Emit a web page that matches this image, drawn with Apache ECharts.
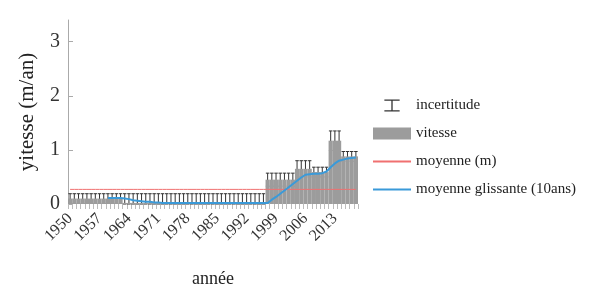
<!DOCTYPE html>
<html>
<head>
<meta charset="utf-8">
<script src="https://cdn.jsdelivr.net/npm/echarts@6/dist/echarts.min.js"></script>
<style>
html,body{margin:0;padding:0;background:#fff;}
#main{width:597px;height:293px;}
</style>
</head>
<body>
<div id="main"></div>
<script>
var years = [];
for (var y = 1950; y <= 2018; y++) { years.push(String(y)); }

// vitesse (m/an)
var vitesse = [
    0.10,0.10,0.10,0.10,0.10,0.10,0.10,0.10,0.10,0.10, // 1950-1959
    0.10,0.10,0.10,0.02,0.02,0.02,0.02,0.02,0.02,0.02, // 1960-1969
    0.02,0.02,0.02,0.02,0.02,0.02,0.02,0.02,0.02,0.02, // 1970-1979
    0.02,0.02,0.02,0.02,0.02,0.02,0.02,0.02,0.02,0.02, // 1980-1989
    0.02,0.02,0.02,0.02,0.02,0.02,0.02,0.45,0.45,0.45, // 1990-1999
    0.45,0.45,0.45,0.45,0.65,0.65,0.65,0.65,0.59,0.59, // 2000-2009
    0.59,0.59,1.17,1.17,1.17,0.88,0.88,0.88,0.88       // 2010-2018
];
// incertitude (half width)
var incertitude = [
    0.09,0.09,0.09,0.09,0.09,0.09,0.09,0.09,0.09,0.09,
    0.09,0.09,0.09,0.17,0.17,0.17,0.17,0.17,0.17,0.17,
    0.17,0.17,0.17,0.17,0.17,0.17,0.17,0.17,0.17,0.17,
    0.17,0.17,0.17,0.17,0.17,0.17,0.17,0.17,0.17,0.17,
    0.17,0.17,0.17,0.17,0.17,0.17,0.17,0.12,0.12,0.12,
    0.12,0.12,0.12,0.12,0.15,0.15,0.15,0.15,0.09,0.09,
    0.09,0.09,0.18,0.18,0.18,0.09,0.09,0.09,0.09
];
var moyenne = 0.27;
// moyenne glissante (10ans)
var glissante = [
    null,null,null,null,null,null,null,null,null,0.11,
    0.11,0.11,0.11,0.10,0.09,0.07,0.06,0.05,0.04,0.04,
    0.03,0.03,0.02,0.02,0.02,0.02,0.02,0.02,0.02,0.02,
    0.02,0.02,0.02,0.02,0.02,0.02,0.02,0.02,0.02,0.02,
    0.02,0.02,0.02,0.02,0.02,0.02,0.02,0.02,0.08,0.13,
    0.19,0.25,0.31,0.37,0.43,0.49,0.54,0.55,0.56,0.56,
    0.57,0.60,0.68,0.75,0.80,0.82,0.84,0.85,0.86
];
var yTicks = [0, 1, 2, 3];

var serif = 'Liberation Serif';
var errData = vitesse.map(function (v, i) {
    return [i, Math.max(0, v - incertitude[i]), v + incertitude[i]];
});
var moyData = years.map(function () { return moyenne; });
var lineIcon = 'path://M0,0H38V2H0Z';

var chart = echarts.init(document.getElementById('main'));
chart.setOption({
    animation: false,
    grid: { left: 68, right: 239, top: 20, bottom: 85 },
    legend: {
        orient: 'vertical',
        left: 368,
        top: 93,
        itemWidth: 38,
        itemHeight: 12,
        itemGap: 13,
        textStyle: { fontFamily: serif, fontSize: 15, color: '#222' },
        data: [
            { name: 'incertitude', icon: 'path://M0,0H14V1.2H7.6V9.8H14V11H0V9.8H6.4V1.2H0Z' },
            { name: 'vitesse', icon: 'rect' },
            { name: 'moyenne (m)', icon: lineIcon },
            { name: 'moyenne glissante (10ans)', icon: lineIcon }
        ]
    },
    xAxis: {
        type: 'category',
        data: years,
        name: 'année',
        nameLocation: 'middle',
        nameGap: 66,
        nameTextStyle: { fontFamily: serif, fontSize: 18, color: '#222' },
        axisLine: { show: false },
        axisTick: { show: true, interval: 0, length: 5, lineStyle: { color: '#bbb' } },
        axisLabel: { interval: 6, rotate: 45, fontFamily: serif, fontSize: 16, color: '#333', margin: 12 }
    },
    yAxis: {
        type: 'value',
        min: 0,
        max: 3.4,
        name: 'yitesse (m/an)',
        nameLocation: 'middle',
        nameGap: 30,
        nameTextStyle: { fontFamily: serif, fontSize: 21, color: '#222' },
        splitLine: { show: false },
        axisLine: { show: true, lineStyle: { color: '#aaa' } },
        axisTick: { show: true, inside: true, length: 5, customValues: yTicks, lineStyle: { color: '#aaa' } },
        axisLabel: { customValues: yTicks, fontFamily: serif, fontSize: 20, color: '#333', margin: 8 }
    },
    series: [
        {
            name: 'vitesse',
            type: 'bar',
            data: vitesse,
            barCategoryGap: '0%',
            itemStyle: { color: '#9c9c9c' }
        },
        {
            name: 'incertitude',
            type: 'custom',
            itemStyle: { color: '#333' },
            data: errData,
            renderItem: function (params, api) {
                var top = api.coord([api.value(0), api.value(2)]);
                var bot = api.coord([api.value(0), api.value(1)]);
                var hw = api.size([1, 0])[0] * 0.42;
                var st = { stroke: '#333', lineWidth: 1 };
                return {
                    type: 'group',
                    children: [
                        { type: 'line', shape: { x1: top[0], y1: top[1], x2: bot[0], y2: bot[1] }, style: st },
                        { type: 'line', shape: { x1: top[0] - hw, y1: top[1], x2: top[0] + hw, y2: top[1] }, style: st },
                        { type: 'line', shape: { x1: bot[0] - hw, y1: bot[1], x2: bot[0] + hw, y2: bot[1] }, style: st }
                    ]
                };
            }
        },
        {
            name: 'moyenne (m)',
            type: 'line',
            data: moyData,
            symbol: 'none',
            lineStyle: { color: '#f07070', width: 1 },
            itemStyle: { color: '#f07070' }
        },
        {
            name: 'moyenne glissante (10ans)',
            type: 'line',
            data: glissante,
            symbol: 'none',
            lineStyle: { color: '#3a9ad9', width: 2 },
            itemStyle: { color: '#3a9ad9' }
        }
    ]
});
</script>
</body>
</html>
